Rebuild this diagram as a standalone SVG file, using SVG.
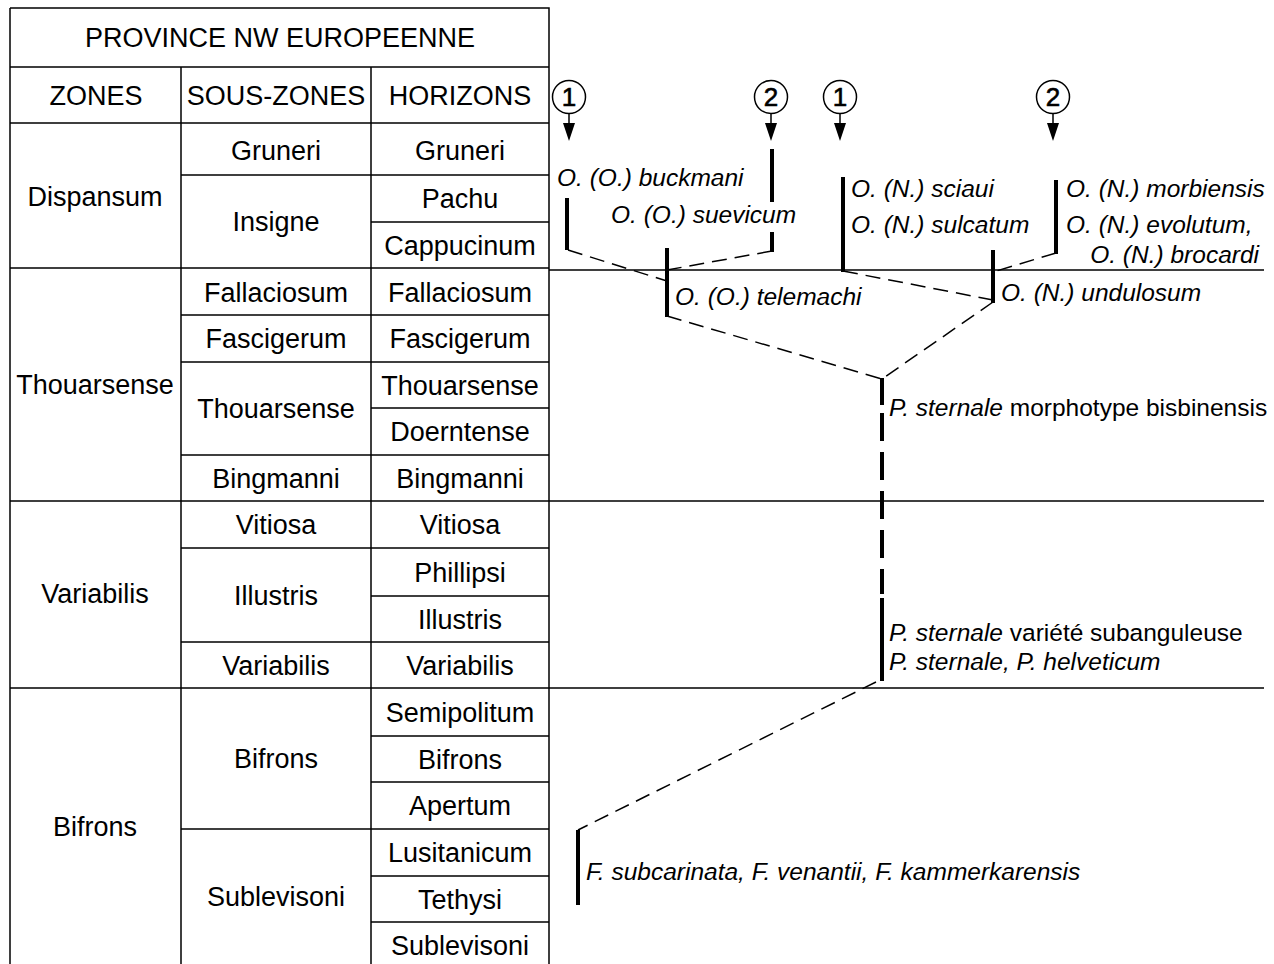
<svg xmlns="http://www.w3.org/2000/svg" width="1274" height="964" viewBox="0 0 1274 964">
<defs>
<style>
.t{font-family:"Liberation Sans",Arial,sans-serif;font-size:27px;fill:#000;text-anchor:middle}
.l{font-family:"Liberation Sans",Arial,sans-serif;font-size:24.5px;fill:#000;font-style:italic}
.r{font-style:normal}
.g{stroke:#000;stroke-width:1.5;fill:none}
.bar{stroke:#000;stroke-width:4;fill:none}
.d{stroke:#000;stroke-width:1.5;fill:none;stroke-dasharray:15 8}
.c{font-family:"Liberation Sans",Arial,sans-serif;font-size:26px;fill:#000;stroke:#000;stroke-width:0.6;text-anchor:middle}
.ah{fill:#000}
</style>
</defs>
<rect width="1274" height="964" fill="#fff"/>
<g id="table">
<g class="g">
<path d="M10,8 H549 V964 M10,8 V964 M10,67 H549 M10,123 H549 M181,67 V964 M371,67 V964"/>
<path d="M10,268 H549 M10,501 H549 M10,688 H549"/>
<path d="M181,175 H549 M371,222 H549 M181,315 H549 M181,362 H549 M371,408 H549 M181,455 H549 M181,548 H549 M371,596 H549 M181,642 H549 M371,736 H549 M371,782 H549 M181,829 H549 M371,876 H549 M371,922 H549"/>
</g>
<text class="t" x="280" y="47">PROVINCE NW EUROPEENNE</text>
<text class="t" x="96" y="105">ZONES</text>
<text class="t" x="276" y="105">SOUS-ZONES</text>
<text class="t" x="460" y="105">HORIZONS</text>
<text class="t" x="95" y="206">Dispansum</text>
<text class="t" x="95" y="394">Thouarsense</text>
<text class="t" x="95" y="603">Variabilis</text>
<text class="t" x="95" y="836">Bifrons</text>
<text class="t" x="276" y="160">Gruneri</text>
<text class="t" x="276" y="231">Insigne</text>
<text class="t" x="276" y="302">Fallaciosum</text>
<text class="t" x="276" y="348">Fascigerum</text>
<text class="t" x="276" y="418">Thouarsense</text>
<text class="t" x="276" y="488">Bingmanni</text>
<text class="t" x="276" y="534">Vitiosa</text>
<text class="t" x="276" y="605">Illustris</text>
<text class="t" x="276" y="675">Variabilis</text>
<text class="t" x="276" y="768">Bifrons</text>
<text class="t" x="276" y="906">Sublevisoni</text>
<text class="t" x="460" y="160">Gruneri</text>
<text class="t" x="460" y="208">Pachu</text>
<text class="t" x="460" y="255">Cappucinum</text>
<text class="t" x="460" y="302">Fallaciosum</text>
<text class="t" x="460" y="348">Fascigerum</text>
<text class="t" x="460" y="395">Thouarsense</text>
<text class="t" x="460" y="441">Doerntense</text>
<text class="t" x="460" y="488">Bingmanni</text>
<text class="t" x="460" y="534">Vitiosa</text>
<text class="t" x="460" y="582">Phillipsi</text>
<text class="t" x="460" y="629">Illustris</text>
<text class="t" x="460" y="675">Variabilis</text>
<text class="t" x="460" y="722">Semipolitum</text>
<text class="t" x="460" y="769">Bifrons</text>
<text class="t" x="460" y="815">Apertum</text>
<text class="t" x="460" y="862">Lusitanicum</text>
<text class="t" x="460" y="909">Tethysi</text>
<text class="t" x="460" y="955">Sublevisoni</text>
</g>
<g id="boundaries" class="g">
<path d="M549,270 H1264 M549,501 H1264 M549,688 H1264"/>
</g>
<g id="markers">
<g class="g" stroke-width="2">
<circle cx="569" cy="97" r="16.5"/>
<circle cx="771" cy="97" r="16.5"/>
<circle cx="840" cy="97" r="16.5"/>
<circle cx="1053" cy="97" r="16.5"/>
<path d="M569,113 V126 M771,113 V126 M840,113 V126 M1053,113 V126"/>
</g>
<polygon class="ah" points="563,123 575,123 569,141"/>
<polygon class="ah" points="765,123 777,123 771,141"/>
<polygon class="ah" points="834,123 846,123 840,141"/>
<polygon class="ah" points="1047,123 1059,123 1053,141"/>
<text class="c" x="569" y="106">1</text>
<text class="c" x="771" y="106">2</text>
<text class="c" x="840" y="106">1</text>
<text class="c" x="1053" y="106">2</text>
</g>
<g id="connectors">
<path class="d" d="M568,250 L667,281"/>
<path class="d" d="M772,251 L667,270"/>
<path class="d" d="M843,271 L993,300"/>
<path class="d" d="M1056,253 L993,272"/>
<path class="d" d="M667,316 L882,379"/>
<path class="d" d="M993,302 L882,379"/>
<path class="d" d="M876,682 L578,830"/>
</g>
<g id="buckmani"><path class="bar" d="M567,198 V250"/><text class="l" x="557" y="186">O. (O.) buckmani</text></g>
<g id="suevicum"><path class="bar" d="M772,149 V202 M772,232 V252"/><text class="l" x="611" y="223">O. (O.) suevicum</text></g>
<g id="telemachi"><path class="bar" d="M667,248 V317"/><text class="l" x="675" y="305">O. (O.) telemachi</text></g>
<g id="sciaui"><path class="bar" d="M843,177 V272"/><text class="l" x="851" y="197">O. (N.) sciaui</text><text class="l" x="851" y="233">O. (N.) sulcatum</text></g>
<g id="morbiensis"><path class="bar" d="M1056,180 V254"/><text class="l" x="1066" y="197">O. (N.) morbiensis</text><text class="l" x="1066" y="233">O. (N.) evolutum,</text><text class="l" x="1259" y="263" text-anchor="end">O. (N.) brocardi</text></g>
<g id="undulosum"><path class="bar" d="M993,250 V303"/><text class="l" x="1001" y="301">O. (N.) undulosum</text></g>
<g id="sternale">
<path class="bar" d="M882,378 V405"/>
<path class="bar" d="M882,413 V594" stroke-width="5" stroke-dasharray="28 11"/>
<path class="bar" d="M882,598 V681"/>
<text class="l" x="889" y="416">P. sternale<tspan class="r"> morphotype bisbinensis</tspan></text>
<text class="l" x="889" y="641">P. sternale<tspan class="r"> variété subanguleuse</tspan></text>
<text class="l" x="889" y="670">P. sternale, P. helveticum</text>
</g>
<g id="subcarinata"><path class="bar" d="M578,830 V905"/><text class="l" x="586" y="880">F. subcarinata, F. venantii, F. kammerkarensis</text></g>
</svg>
